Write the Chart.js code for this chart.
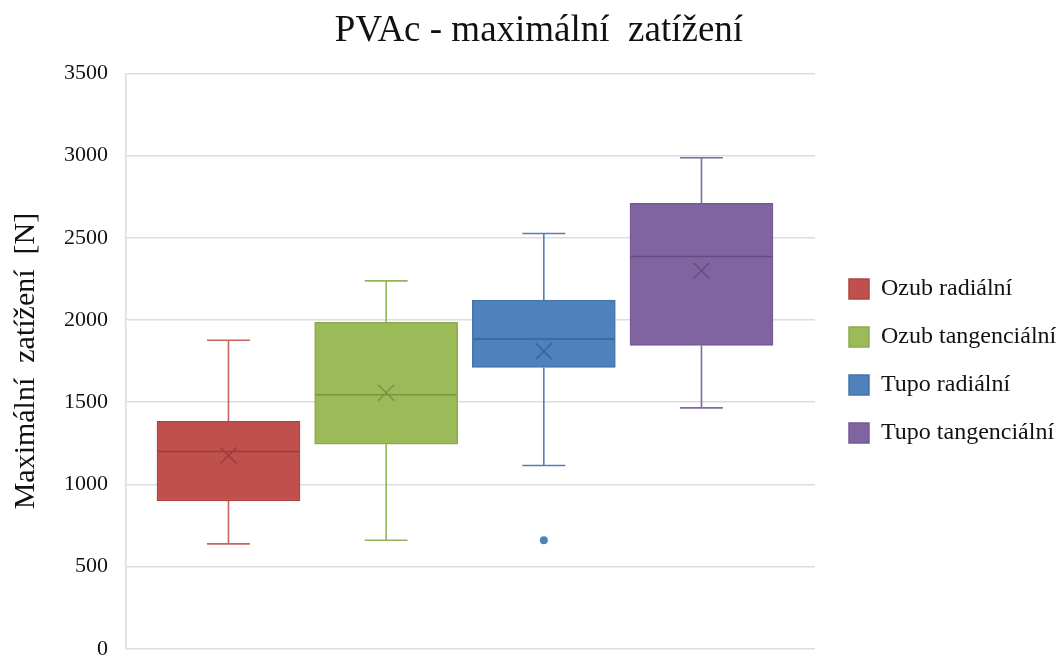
<!DOCTYPE html>
<html>
<head>
<meta charset="utf-8">
<title>PVAc - maximální zatížení</title>
<script src="https://cdn.jsdelivr.net/npm/chart.js@4/dist/chart.umd.min.js"></script>
<style>
  html, body { margin: 0; padding: 0; background: #ffffff; }
  #wrap { width: 1059px; height: 657px; position: relative; }
</style>
</head>
<body>
<div id="wrap"><canvas id="chart"></canvas></div>
<script>
// Five-number summaries of maximum load [N] for each joint variant
const seriesNames = ['Ozub radiální', 'Ozub tangenciální', 'Tupo radiální', 'Tupo tangenciální'];
const whiskerLow  = [638, 660, 1115, 1465];
const quartile1   = [899, 1244, 1711, 1845];
const medians     = [1200, 1545, 1885, 2386];
const quartile3   = [1384, 1985, 2121, 2709];
const whiskerHigh = [1877, 2238, 2526, 2987];
const means       = [1176, 1557, 1810, 2299];
const outliers    = [[], [], [660], []];
const yTickValues = [0, 500, 1000, 1500, 2000, 2500, 3000, 3500];

const fillColors    = ['#C0504D', '#9BBB59', '#4F81BD', '#8064A2'];
const edgeColors    = ['#AD4643', '#8CAA4F', '#4674AB', '#735A93'];
const detailColors  = ['#973D3A', '#7A9445', '#3B6393', '#634D80'];
const whiskerColors = ['#C76462', '#93B45A', '#527FB6', '#82699F'];

const SERIF = "'Liberation Serif', 'Times New Roman', serif";

// Whiskers behind the boxes, medians / means / outliers on top of them
const boxDetails = {
  id: 'boxDetails',
  beforeDatasetsDraw(chart) {
    const ctx = chart.ctx;
    const y = chart.scales.y;
    chart.data.datasets.forEach((ds, i) => {
      const bar = chart.getDatasetMeta(i).data[0];
      if (!bar) return;
      const cx = bar.x;
      const cap = bar.width * 0.15;
      const yHi = y.getPixelForValue(whiskerHigh[i]);
      const yQ3 = y.getPixelForValue(quartile3[i]);
      const yLo = y.getPixelForValue(whiskerLow[i]);
      const yQ1 = y.getPixelForValue(quartile1[i]);
      ctx.save();
      ctx.strokeStyle = whiskerColors[i];
      ctx.lineWidth = 1.6;
      ctx.beginPath();
      ctx.moveTo(cx, yQ3); ctx.lineTo(cx, yHi);
      ctx.moveTo(cx - cap, yHi); ctx.lineTo(cx + cap, yHi);
      ctx.moveTo(cx, yQ1); ctx.lineTo(cx, yLo);
      ctx.moveTo(cx - cap, yLo); ctx.lineTo(cx + cap, yLo);
      ctx.stroke();
      ctx.restore();
    });
  },
  afterDatasetsDraw(chart) {
    const ctx = chart.ctx;
    const y = chart.scales.y;
    chart.data.datasets.forEach((ds, i) => {
      const bar = chart.getDatasetMeta(i).data[0];
      if (!bar) return;
      const cx = bar.x;
      const half = bar.width / 2;
      const yMed = y.getPixelForValue(medians[i]);
      const yMean = y.getPixelForValue(means[i]);
      const m = 8;
      ctx.save();
      ctx.strokeStyle = detailColors[i];
      ctx.lineWidth = 1.5;
      ctx.beginPath();
      ctx.moveTo(cx - half + 1, yMed); ctx.lineTo(cx + half - 1, yMed);
      ctx.moveTo(cx - m, yMean - m); ctx.lineTo(cx + m, yMean + m);
      ctx.moveTo(cx - m, yMean + m); ctx.lineTo(cx + m, yMean - m);
      ctx.stroke();
      ctx.fillStyle = fillColors[i];
      outliers[i].forEach(v => {
        ctx.beginPath();
        ctx.arc(cx, y.getPixelForValue(v), 4, 0, Math.PI * 2);
        ctx.fill();
      });
      ctx.restore();
    });
  }
};

const datasets = seriesNames.map((name, i) => ({
  label: name,
  data: [{ x: i + 1, y: [quartile1[i], quartile3[i]] }],
  backgroundColor: fillColors[i],
  borderColor: edgeColors[i],
  borderWidth: 1.5,
  borderSkipped: false,
  grouped: false,
  barThickness: 143
}));

new Chart(document.getElementById('chart'), {
  type: 'bar',
  data: { datasets },
  options: {
    responsive: true,
    maintainAspectRatio: false,
    animation: false,
    events: [],
    layout: { padding: { left: 19, right: 0, top: 0, bottom: 0 } },
    scales: {
      x: {
        type: 'linear',
        offset: false,
        min: 0.35,
        max: 4.72,
        display: false
      },
      y: {
        position: 'left',
        min: 0,
        max: 3500,
        afterBuildTicks: scale => { scale.ticks = yTickValues.map(v => ({ value: v })); },
        afterFit: scale => { scale.width = 107; },
        grid: {
          color: '#dddddd',
          lineWidth: 1.6,
          drawTicks: true,
          tickLength: 18,
          tickColor: 'rgba(0,0,0,0)'
        },
        border: { display: true, color: '#dddddd', width: 1.6 },
        ticks: {
          padding: 0,
          color: '#111111',
          font: { family: SERIF, size: 22, lineHeight: 0.75 },
          callback: v => String(v)
        },
        title: {
          display: true,
          text: 'Maximální  zatížení  [N]',
          color: '#111111',
          font: { family: SERIF, size: 30, lineHeight: 0.5 },
          padding: { top: 0, bottom: 0 }
        }
      },
      gap: {
        position: 'right',
        display: true,
        afterFit: scale => { scale.width = 10; },
        grid: { display: false },
        border: { display: false },
        ticks: { display: false }
      }
    },
    plugins: {
      title: {
        display: true,
        text: 'PVAc - maximální  zatížení',
        color: '#111111',
        font: { family: SERIF, size: 37, weight: 'normal', lineHeight: 1.2 },
        padding: { top: 9, bottom: 20 }
      },
      legend: {
        position: 'right',
        fullSize: false,
        maxWidth: 234,
        labels: {
          boxWidth: 20,
          boxHeight: 20,
          padding: 24,
          color: '#111111',
          font: { family: SERIF, size: 24 }
        }
      },
      tooltip: { enabled: false }
    }
  },
  plugins: [boxDetails]
});
</script>
</body>
</html>
